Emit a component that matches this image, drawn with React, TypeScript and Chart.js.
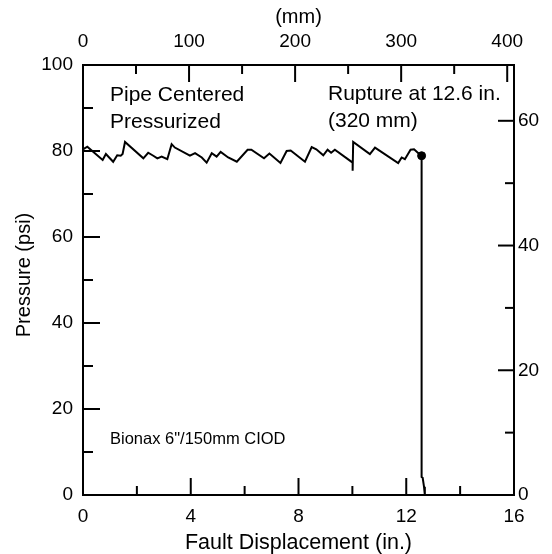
import React, { useEffect, useRef } from "react";
import { Chart, registerables } from "chart.js";

Chart.register(...registerables);

// Fault displacement (in.) and pressure (psi)
const displacementIn = [
  0, 0, 0.16, 0.73, 0.85, 1.12, 1.27, 1.4, 1.47, 1.56, 2.24, 2.42, 2.61, 2.76, 2.92,
  3.13, 3.29, 3.41, 3.97, 4.16, 4.41, 4.59, 4.78, 4.96, 5.11, 5.39, 5.71, 6.11, 6.25,
  6.72, 6.92, 7.33, 7.56, 7.71, 8.24, 8.49, 8.66, 8.92, 9.08, 9.21, 9.35, 10.01, 10.01,
  10.03, 10.65, 10.84, 11.7, 11.83, 11.95, 12.16, 12.29, 12.45, 12.57, 12.57, 12.61,
  12.66, 12.69,
];
const pressurePsi = [
  75.3, 80.4, 81.0, 77.9, 79.3, 77.5, 79.0, 78.9, 79.3, 82.1, 78.3, 79.6, 78.9, 78.3,
  78.7, 78.1, 81.6, 80.8, 78.9, 79.5, 78.5, 77.3, 79.5, 78.7, 79.8, 78.5, 77.5, 80.3,
  80.3, 78.3, 79.4, 77.2, 80.0, 80.1, 77.5, 80.9, 80.4, 79.0, 80.3, 79.6, 80.3, 77.3,
  75.4, 82.1, 79.3, 80.8, 77.2, 78.5, 78.1, 80.3, 80.4, 79.5, 78.9, 4.2, 4.0, 1.9, 0,
];
const ruptureIn = [12.57];
const rupturePsi = [78.9];

const xMaxIn = 16;
const yMaxPsi = 100;
const MM_PER_IN = 25.4;
const UNIT_PER_PSI = 0.6894757; // right axis (x10 kPa)

const textPipe = ["Pipe Centered", "Pressurized"];
const textRupture = ["Rupture at 12.6 in.", "(320 mm)"];
const textSpecimen = 'Bionax 6"/150mm CIOD';
const yTitle = "Pressure (psi)";

const FONT = "'Liberation Sans', Arial, Helvetica, sans-serif";

export default function App() {
  const ref = useRef<HTMLCanvasElement | null>(null);

  useEffect(() => {
    if (!ref.current) return;
    Chart.defaults.font.family = FONT;
    Chart.defaults.color = "#000";

    const tickFont = { size: 19, family: FONT };
    const inwardTicks = {
      id: "inwardTicks",
      afterDraw(chart: any) {
        const ctx = chart.ctx;
        const { left, right, top, bottom } = chart.chartArea;
        ctx.save();
        ctx.strokeStyle = "#000";
        ctx.lineWidth = 2;
        const line = (x1: number, y1: number, x2: number, y2: number) => {
          ctx.beginPath();
          ctx.moveTo(x1, y1);
          ctx.lineTo(x2, y2);
          ctx.stroke();
        };
        const sx = chart.scales.x;
        sx.ticks.forEach((t: any) => {
          const p = sx.getPixelForValue(t.value);
          const len = t.value % 4 === 0 ? 17 : 9;
          line(p, bottom, p, bottom - len);
        });
        const st = chart.scales.xTop;
        st.ticks.forEach((t: any) => {
          const p = st.getPixelForValue(t.value);
          const len = t.value % 100 === 0 ? 17 : 9;
          line(p, top, p, top + len);
        });
        const sy = chart.scales.y;
        sy.ticks.forEach((t: any) => {
          const p = sy.getPixelForValue(t.value);
          const len = t.value % 20 === 0 ? 17 : 10;
          line(left, p, left + len, p);
        });
        const sr = chart.scales.yRight;
        sr.ticks.forEach((t: any) => {
          const p = sr.getPixelForValue(t.value);
          const len = t.value % 20 === 0 ? 16 : 9;
          line(right, p, right - len, p);
        });

        ctx.fillStyle = "#000";
        ctx.textAlign = "left";
        ctx.textBaseline = "alphabetic";
        ctx.font = `21px ${FONT}`;
        ctx.fillText(textPipe[0], 110, 101);
        ctx.fillText(textPipe[1], 110, 128);
        ctx.fillText(textRupture[0], 328, 100);
        ctx.fillText(textRupture[1], 328, 127);
        ctx.font = `16.5px ${FONT}`;
        ctx.fillText(textSpecimen, 110, 444);

        // left axis title
        ctx.translate(24, 275);
        ctx.rotate(-Math.PI / 2);
        ctx.textAlign = "center";
        ctx.textBaseline = "middle";
        ctx.font = `20px ${FONT}`;
        ctx.fillText(yTitle, 0, 0);
        ctx.restore();
      },
    };

    const chart = new Chart(ref.current, {
      type: "line",
      data: {
        datasets: [
          {
            data: displacementIn.map((x, i) => ({ x, y: pressurePsi[i] })),
            borderColor: "#000",
            borderWidth: 2,
            pointRadius: 0,
            fill: false,
            tension: 0,
            clip: false as any,
            xAxisID: "x",
            yAxisID: "y",
          },
          {
            data: ruptureIn.map((x, i) => ({ x, y: rupturePsi[i] })),
            showLine: false,
            pointRadius: 4,
            pointBackgroundColor: "#000",
            pointBorderColor: "#000",
            borderColor: "#000",
            clip: false as any,
            xAxisID: "x",
            yAxisID: "y",
          },
        ],
      },
      options: {
        responsive: false,
        animation: false,
        devicePixelRatio: 1,
        layout: { padding: 0 },
        plugins: { legend: { display: false }, tooltip: { enabled: false } },
        scales: {
          x: {
            type: "linear",
            position: "bottom",
            min: 0,
            max: xMaxIn,
            grid: { display: false, drawTicks: false },
            border: { display: true, color: "#000", width: 2 },
            ticks: {
              stepSize: 2,
              includeBounds: false,
              autoSkip: false,
              maxRotation: 0,
              padding: 10,
              font: tickFont,
              color: "#000",
              callback: (v: any) => (Number(v) % 4 === 0 ? String(v) : ""),
            },
            title: {
              display: true,
              text: "Fault Displacement (in.)",
              font: { size: 21.5, family: FONT, lineHeight: 1 },
              color: "#000",
              padding: { top: 0, bottom: 0 },
            },
            afterFit: (s: any) => {
              s.height = 59;
            },
          },
          xTop: {
            type: "linear",
            position: "top",
            min: 0,
            max: xMaxIn * MM_PER_IN,
            grid: { display: false, drawTicks: false },
            border: { display: true, color: "#000", width: 2 },
            ticks: {
              stepSize: 50,
              includeBounds: false,
              autoSkip: false,
              maxRotation: 0,
              padding: 12,
              font: tickFont,
              color: "#000",
              callback: (v: any) => (Number(v) % 100 === 0 ? String(v) : ""),
            },
            title: {
              display: true,
              text: "(mm)",
              font: { size: 20, family: FONT, lineHeight: 1.2 },
              color: "#000",
              padding: { top: 5, bottom: 0 },
            },
            afterFit: (s: any) => {
              s.height = 65;
            },
          },
          y: {
            type: "linear",
            position: "left",
            min: 0,
            max: yMaxPsi,
            grid: { display: false, drawTicks: false },
            border: { display: true, color: "#000", width: 2 },
            ticks: {
              stepSize: 10,
              includeBounds: false,
              autoSkip: false,
              padding: 10,
              font: tickFont,
              color: "#000",
              callback: (v: any) => (Number(v) % 20 === 0 ? String(v) : ""),
            },
            title: { display: false },
            afterFit: (s: any) => {
              s.width = 83;
            },
          },
          yRight: {
            type: "linear",
            position: "right",
            min: 0,
            max: yMaxPsi * UNIT_PER_PSI,
            grid: { display: false, drawTicks: false },
            border: { display: true, color: "#000", width: 2 },
            ticks: {
              stepSize: 10,
              includeBounds: false,
              autoSkip: false,
              padding: 4,
              font: tickFont,
              color: "#000",
              callback: (v: any) => (Number(v) % 20 === 0 ? String(v) : ""),
            },
            afterFit: (s: any) => {
              s.width = 38;
            },
          },
        },
      } as any,
      plugins: [inwardTicks],
    });
    return () => chart.destroy();
  }, []);

  return (
    <div style={{ position: "absolute", left: 0, top: 0, width: 552, height: 554, background: "#fff" }}>
      <canvas ref={ref} width={552} height={554} style={{ display: "block" }} />
    </div>
  );
}
